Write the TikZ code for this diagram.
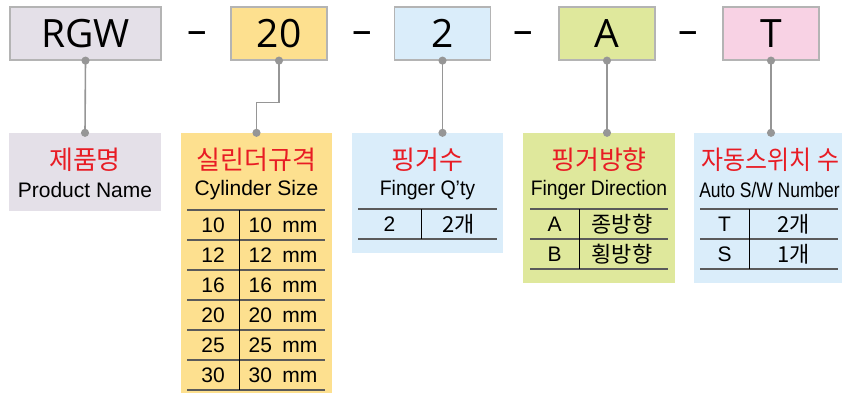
\documentclass[tikz,border=0pt]{standalone}
\usepackage{fontspec}
\setmainfont{Liberation Sans}
\newfontfamily\codefont{Open Sans}
\newfontfamily\krfont{Noto Sans CJK KR}
\usetikzlibrary{arrows.meta}

\definecolor{boxgray}{RGB}{228,224,232}
\definecolor{boxyellow}{RGB}{253,224,143}
\definecolor{boxblue}{RGB}{218,237,250}
\definecolor{boxgreen}{RGB}{223,232,156}
\definecolor{boxpink}{RGB}{248,210,228}
\definecolor{boxline}{RGB}{180,180,180}
\definecolor{linkgray}{RGB}{150,150,150}
\definecolor{rulegray}{RGB}{90,90,90}
\definecolor{titlered}{RGB}{232,28,36}

\tikzset{
	codebox/.style={draw=boxline, line width=1.2pt, minimum width=96pt, minimum height=53pt, inner sep=0pt, font=\codefont\fontsize{39}{45}\selectfont},
	dashsign/.style={inner sep=0pt, font=\codefont\fontsize{39}{45}\selectfont},
	infobox/.style={inner sep=0pt, minimum width=151pt},
	title/.style={inner sep=0pt, text=titlered, font=\krfont\fontsize{26}{30}\selectfont},
	subtitle/.style={inner sep=0pt, font=\fontsize{21}{24}\selectfont},
	cell/.style={inner sep=0pt, font=\fontsize{21}{24}\selectfont},
	krcell/.style={inner sep=0pt, font=\krfont\fontsize{22}{24}\selectfont},
	link/.style={draw=linkgray, line width=1.6pt, {Circle[length=8pt]}-{Circle[length=8pt]}, shorten <=-4pt, shorten >=-4pt},
	hrule/.style={draw=rulegray, line width=1.4pt},
	vrule/.style={draw=black, line width=0.8pt}
}

\begin{document}
\begin{tikzpicture}[x=1pt,y=-1pt]
	\useasboundingbox (0,0) rectangle (842,394);

	% code boxes
	\begin{scope}
		\node[codebox, fill=boxgray, minimum width=151pt] (rgw) at (85.5,33.5) {RGW};
		\node[codebox, fill=boxyellow] (size) at (279,33.5) {20};
		\node[codebox, fill=boxblue] (qty) at (442.5,33.5) {2};
		\node[codebox, fill=boxgreen] (dir) at (607,33.5) {A};
		\node[codebox, fill=boxpink] (sw) at (771,33.5) {T};

		\node[dashsign] (d1) at (197,38) {–};
		\node[dashsign] (d2) at (362,38) {–};
		\node[dashsign] (d3) at (523,38) {–};
		\node[dashsign] (d4) at (688,38) {–};
	\end{scope}

	% info boxes
	\begin{scope}
		\node[infobox, fill=boxgray, minimum width=152pt, minimum height=78pt] (pname) at (85,172) {};
		\node[infobox, fill=boxyellow, minimum height=260pt] (psize) at (256.5,263) {};
		\node[infobox, fill=boxblue, minimum height=120pt] (pqty) at (427.5,193) {};
		\node[infobox, fill=boxgreen, minimum width=152pt, minimum height=150pt] (pdir) at (599,208) {};
		\node[infobox, fill=boxblue, minimum width=152pt, minimum height=150pt] (psw) at (770,208) {};
	\end{scope}

	% connectors
	\draw[link] (rgw.south) -- (pname.north);
	\draw[link] (size.south) -- ++(0,42) -| (psize.north);
	\draw[link] (qty.south) -- (qty.south |- pqty.north);
	\draw[link] (dir.south) -- (dir.south |- pdir.north);
	\draw[link] (sw.south) -- (sw.south |- psw.north);

	% titles
	\node[title] (tname) at (85,160) {제품명};
	\node[subtitle] (sname) at (85,190) {Product Name};
	\node[title] (tsize) at (256.5,160) {실린더규격};
	\node[subtitle] (ssize) at (256.5,190) {Cylinder Size};
	\node[title] (tqty) at (427.5,160) {핑거수};
	\node[subtitle] (sqty) at (427.5,190) {\scalebox{0.93}[1]{Finger Q’ty}};
	\node[title] (tdir) at (599,160) {핑거방향};
	\node[subtitle] (sdir) at (599,190) {\scalebox{0.92}[1]{Finger Direction}};
	\node[title] (tsw) at (770.5,160) {\scalebox{0.92}[1]{자동스위치 수}};
	\node[subtitle] (ssw) at (769.5,190) {\scalebox{0.83}[1]{Auto S/W Number}};

	% cylinder size table
	\foreach \v [count=\i] in {10,12,16,20,25,30} {
		\node[cell] (sk\i) at (213,195+30*\i) {\v};
		\node[cell] (sv\i) at (283,195+30*\i) {\v\hspace{0.5em}mm};
	}
	\foreach \y in {210,240,...,390}
		\draw[hrule] (187,\y) -- (325,\y);
	\draw[vrule] (239,210) -- (239,390);

	% finger qty table
	\node[cell] (qk1) at (389.5,224) {2};
	\node[krcell] (qv1) at (459,224) {2개};
	\draw[hrule] (358,209) -- (497,209);
	\draw[hrule] (358,239) -- (497,239);
	\draw[vrule] (421,209) -- (421,239);

	% finger direction table
	\node[cell] (dk1) at (554.5,224) {A};
	\node[krcell] (dv1) at (622,224) {종방향};
	\node[cell] (dk2) at (554.5,254) {B};
	\node[krcell] (dv2) at (622,254) {횡방향};
	\foreach \y in {209,239,269}
		\draw[hrule] (530,\y) -- (668,\y);
	\draw[vrule] (579,209) -- (579,269);

	% auto switch table
	\node[cell] (wk1) at (724.5,224) {T};
	\node[krcell] (wv1) at (793.5,224) {2개};
	\node[cell] (wk2) at (724.5,254) {S};
	\node[krcell] (wv2) at (793.5,254) {1개};
	\foreach \y in {209,239,269}
		\draw[hrule] (700,\y) -- (838,\y);
	\draw[vrule] (749,209) -- (749,269);
\end{tikzpicture}
\end{document}
